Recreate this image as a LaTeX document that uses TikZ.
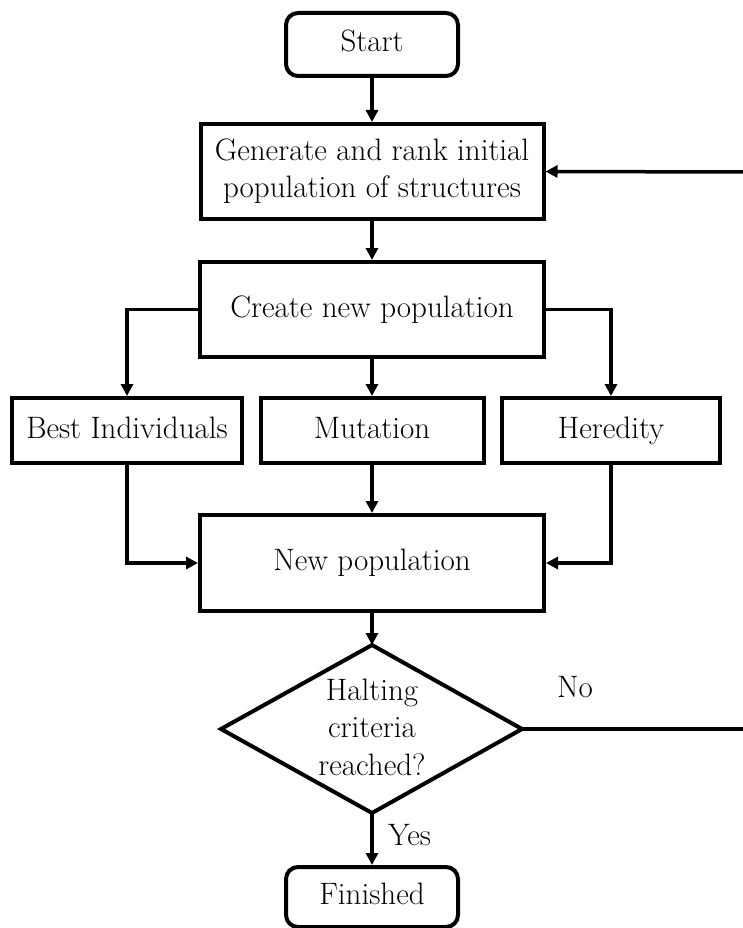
\documentclass[tikz,border=0pt]{standalone}
\usetikzlibrary{arrows.meta}
\begin{document}
\begin{tikzpicture}[x=1pt,y=-1pt,
  box/.style={draw, line width=4pt, inner sep=0pt, align=center},
  rbox/.style={box, rounded corners=12pt},
  arr/.style={line width=3.5pt, -{Triangle[length=12pt,width=12pt]}},
  ln/.style={line width=3.5pt},
  every node/.style={font=\fontsize{31}{37.5}\selectfont}]
\useasboundingbox (0,0) rectangle (743,928);
\node[rbox, minimum width=172pt, minimum height=63pt] (start) at (372,44.5) {\strut Start};
\node[box, minimum width=343pt, minimum height=95pt] (gen) at (372,171.5) {\strut Generate and rank initial\\\strut population of structures};
\node[box, minimum width=344pt, minimum height=95pt] (create) at (372,309.5) {\strut Create new population};
\node[box, minimum width=230pt, minimum height=65pt] (best) at (127,430.5) {\strut Best Individuals};
\node[box, minimum width=223pt, minimum height=65pt] (mut) at (372,430.5) {\strut Mutation};
\node[box, minimum width=218pt, minimum height=65pt] (her) at (611,430.5) {\strut Heredity};
\node[box, minimum width=344pt, minimum height=96pt] (newpop) at (372,563) {\strut New population};
\node[align=center, inner sep=0pt] (halt) at (372,730) {\strut Halting\\\strut criteria\\\strut reached?};
\coordinate (hn) at (372,645);
\coordinate (he) at (522,729);
\coordinate (hs) at (372,813);
\coordinate (hw) at (221,729);
\draw[line width=4pt, line join=miter] (hn) -- (he) -- (hs) -- (hw) -- cycle;
\node[rbox, minimum width=172pt, minimum height=60pt] (fin) at (372,897) {\strut Finished};
\coordinate (noend) at (745,729);
\coordinate (fbstart) at (745,172);
\node[inner sep=0pt] (nolab) at (575,690) {\strut No};
\node[inner sep=0pt, anchor=west] (yeslab) at (388,838) {\strut Yes};
\draw[arr] (start) -- (gen);
\draw[arr] (gen) -- (create);
\draw[arr] (create.west) -| (best.north);
\draw[arr] (create.south) -- (mut.north);
\draw[arr] (create.east) -| (her.north);
\draw[arr] (best.south) |- (newpop.west);
\draw[arr] (mut.south) -- (newpop.north);
\draw[arr] (her.south) |- (newpop.east);
\draw[arr] (newpop.south) -- (hn);
\draw[arr] (hs) -- (fin.north);
\draw[ln] (he) -- (noend);
\draw[arr] (fbstart) -- (gen.east);
\end{tikzpicture}
\end{document}
